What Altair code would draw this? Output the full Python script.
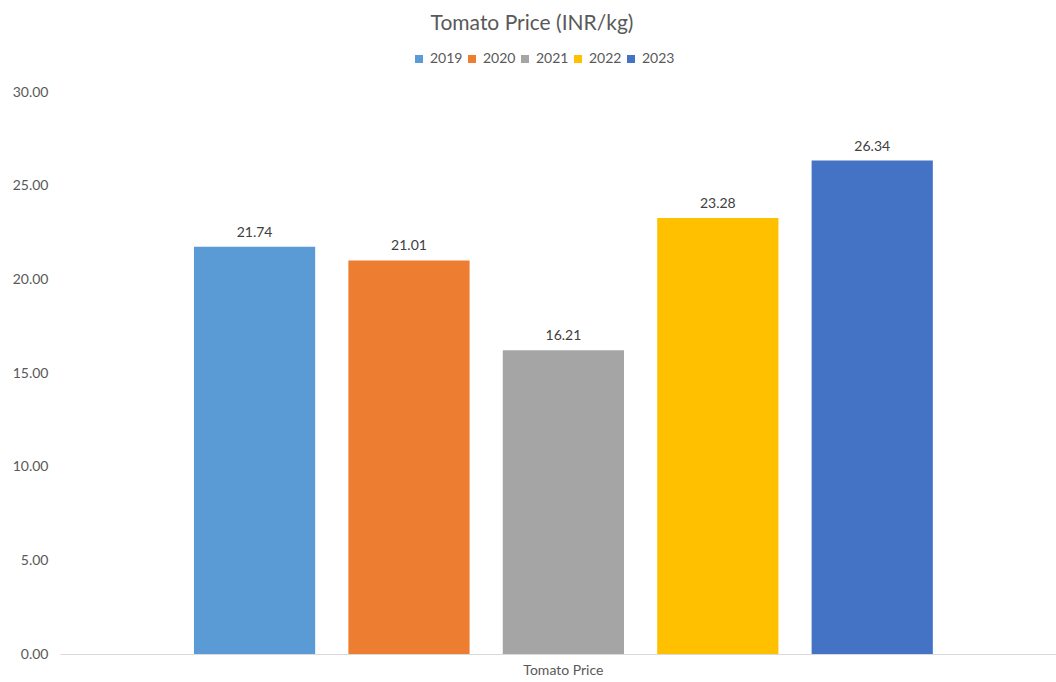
import altair as alt
import pandas as pd

# Average tomato price per year
years = ["2019", "2020", "2021", "2022", "2023"]
prices = [21.74, 21.01, 16.21, 23.28, 26.34]
group_label = "Tomato Price"
year_colors = ["#5B9BD5", "#ED7D31", "#A5A5A5", "#FFC000", "#4472C4"]
y_ticks = [0, 5, 10, 15, 20, 25, 30]

df = pd.DataFrame({
    "category": [group_label] * len(years),
    "year": years,
    "price": prices,
})

FONT = "Lato"
TEXT_GREY = "#595959"

base = alt.Chart(df).encode(
    x=alt.X(
        "category:N",
        scale=alt.Scale(paddingInner=0, paddingOuter=0.174, align=0.521),
        axis=alt.Axis(
            title=None, labelAngle=0, ticks=False, domainColor="#d9d9d9",
            domainWidth=1, labelPadding=9, labelFontSize=14,
            labelColor=TEXT_GREY, labelFont=FONT,
        ),
    ),
    xOffset=alt.XOffset(
        "year:N", sort=years,
        scale=alt.Scale(paddingInner=0.215, paddingOuter=0),
    ),
    y=alt.Y(
        "price:Q",
        scale=alt.Scale(domain=[0, 30], nice=False),
        axis=alt.Axis(
            values=y_ticks, format=".2f", grid=False, domain=False,
            ticks=False, title=None, labelPadding=12, labelFontSize=14,
            labelColor=TEXT_GREY, labelFont=FONT,
        ),
    ),
)

bars = base.mark_bar().encode(
    color=alt.Color(
        "year:N",
        scale=alt.Scale(domain=years, range=year_colors),
        legend=alt.Legend(
            title=None, orient="none", direction="horizontal",
            legendX=352, legendY=-40,
            symbolType="square", symbolSize=64, symbolStrokeWidth=0,
            labelFontSize=14, labelColor=TEXT_GREY, labelFont=FONT,
            columnPadding=2, labelOffset=4,
        ),
    ),
)

labels = base.mark_text(
    baseline="alphabetic", dy=-10, fontSize=14, color="#404040", font=FONT,
).encode(text=alt.Text("price:Q", format=".2f"))

chart = (
    alt.layer(bars, labels)
    .properties(
        width=996,
        height=562,
        title=alt.TitleParams(
            "Tomato Price (INR/kg)", fontSize=21, font=FONT,
            fontWeight="normal", color=TEXT_GREY, anchor="middle",
            dx=-26, offset=18,
        ),
        autosize=alt.AutoSizeParams(type="none"),
        padding={"left": 60, "top": 92, "right": 0, "bottom": 28},
    )
    .configure(background="white", view=alt.ViewConfig(strokeWidth=0, stroke="transparent"))
)

chart.save("out.html", embed_options={"renderer": "svg", "actions": False})
